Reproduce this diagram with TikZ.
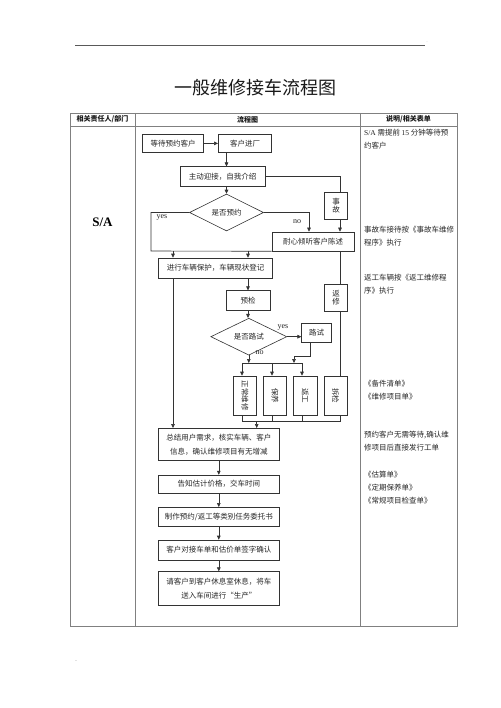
\documentclass[tikz,border=0pt]{standalone}
\usepackage{fontspec}
\usepackage{graphicx}
\setmainfont{Liberation Serif}
\newfontfamily\cjk{Noto Sans CJK SC}
\usetikzlibrary{shapes.geometric,arrows.meta}
\begin{document}
\begin{tikzpicture}[x=1pt,y=-1pt,
  flowbox/.style={draw=black!80, line width=0.6pt, inner sep=0pt, align=center,
    font=\cjk\fontsize{7.5}{10}\selectfont, text=black!85},
  stackbox/.style={flowbox, minimum width=23pt, minimum height=27pt,
    font=\cjk\fontsize{7.5}{8.5}\selectfont},
  vbox/.style={flowbox, minimum width=23.4pt, minimum height=39pt},
  dia/.style={diamond, flowbox},
  ln/.style={line width=0.6pt, draw=black!80},
  arr/.style={ln, -{Triangle[length=4pt,width=3.6pt]}},
  tbl/.style={draw=black!50, line width=0.8pt},
  lbl/.style={inner sep=0pt, font=\fontsize{8}{9}\selectfont, text=black!85},
  note/.style={anchor=north west, inner sep=0pt, align=left,
    font=\cjk\fontsize{7.5}{13}\selectfont, text=black!85},
  hdr/.style={inner sep=0pt, font=\cjk\bfseries\fontsize{7}{8}\selectfont, text=black!90}]
\useasboundingbox[fill=white] (0,0) rectangle (500,708);

% page decorations
\draw[draw=black!65, line width=0.6pt] (75,45) -- (425,45);
\node[inner sep=0pt, font=\fontsize{4}{4}\selectfont, text=black!50] (dot) at (427,42) {.};
\node[inner sep=0pt, font=\fontsize{6}{6}\selectfont, text=black!45] (mark) at (76,663) {¨};
\node[inner sep=0pt, font=\cjk\fontsize{18}{20}\selectfont, text=black!90] (title) at (255.5,88) {一般维修接车流程图};

% table
\draw[tbl] (70,113) rectangle (457,626);
\draw[tbl] (70,126) -- (457,126);
\draw[tbl] (135,113) -- (135,626);
\draw[tbl] (360,113) -- (360,626);
\node[hdr] (h1) at (102.5,119.5) {相关责任人/部门};
\node[hdr] (h2) at (247.5,119.5) {流程图};
\node[hdr] (h3) at (408.5,119.5) {说明/相关表单};
\node[inner sep=0pt, font=\bfseries\fontsize{13}{14}\selectfont] (sa) at (102.5,222) {S/A};

% notes
\node[note] (n1) at (364,129) {{\rmfamily S/A} 需提前 {\rmfamily 15} 分钟等待预\\约客户};
\node[note] (n2) at (364,226) {事故车接待按《事故车维修\\程序》执行};
\node[note] (n3) at (364,274) {返工车辆按《返工维修程\\序》执行};
\node[note] (n4) at (364,380) {《备件清单》\\《维修项目单》};
\node[note] (n5) at (364,431) {预约客户无需等待,确认维\\修项目后直接发行工单};
\node[note] (n6) at (364,471) {《估算单》\\《定期保养单》\\《常规项目检查单》};

% flow nodes
\node[flowbox, minimum width=60.6pt, minimum height=18.7pt] (wait) at (173,143.4) {等待预约客户};
\node[flowbox, minimum width=53.4pt, minimum height=18.7pt] (enter) at (245,143.4) {客户进厂};
\node[flowbox, minimum width=85pt, minimum height=19.3pt] (greet) at (222.5,176.4) {主动迎接，自我介绍};
\node[stackbox] (acc) at (336,205.5) {事\\故};
\node[dia, minimum width=74pt, minimum height=25pt] (d1) at (226.5,212.5) {是否预约};
\node[flowbox, minimum width=82pt, minimum height=19pt] (listen) at (313,241.5) {耐心倾听客户陈述};
\node[flowbox, minimum width=114pt, minimum height=20pt] (protect) at (215.5,268) {进行车辆保护，车辆现状登记};
\node[stackbox] (fx) at (336,297.5) {返\\修};
\node[flowbox, minimum width=44pt, minimum height=20pt] (pre) at (248,300.7) {预检};
\node[dia, minimum width=76pt, minimum height=25pt] (d2) at (248.8,336.7) {是否路试};
\node[flowbox, minimum width=30pt, minimum height=19.4pt] (road) at (316.7,333) {路试};
\node[vbox] (nm) at (245,395.5) {\rotatebox{-90}{正常维修}};
\node[vbox] (mt) at (275,395.5) {\rotatebox{-90}{保养}};
\node[vbox] (rw) at (305.3,395.5) {\rotatebox{-90}{返工}};
\node[vbox] (td) at (335.5,395.5) {\rotatebox{-90}{拆检}};
\node[flowbox, minimum width=121pt, minimum height=32.4pt, font=\cjk\fontsize{7.5}{14}\selectfont] (sum) at (218.8,444.5) {总结用户需求，核实车辆、客户\\信息，确认维修项目有无增减};
\node[flowbox, minimum width=121pt, minimum height=18.3pt] (inf) at (218.8,484.2) {告知估计价格，交车时间};
\node[flowbox, minimum width=121pt, minimum height=19.4pt] (mk) at (218.8,517) {制作预约/返工等类别任务委托书};
\node[flowbox, minimum width=121pt, minimum height=20pt] (sg) at (218.8,550) {客户对接车单和估价单签字确认};
\node[flowbox, minimum width=121pt, minimum height=33.3pt, font=\cjk\fontsize{7.5}{14}\selectfont] (rs) at (218.8,588.3) {请客户到客户休息室休息，将车\\送入车间进行“生产”};

% labels
\node[lbl] (ly1) at (162,217.5) {yes};
\node[lbl] (ln1) at (297,222) {no};
\node[lbl] (ly2) at (283,327.5) {yes};
\node[lbl] (ln2) at (259.5,353) {no};

% helper coordinates
\coordinate (xr) at (340,0);
\coordinate (yesc) at (151,251);
\coordinate (xa) at (173,0);
\coordinate (xb) at (248,0);
\coordinate (xno) at (309,0);
\coordinate (bt) at (0,363);
\coordinate (rb1) at (310,356.7);
\coordinate (rb2) at (294,356.7);
\coordinate (x1) at (242,0);
\coordinate (x2) at (272,0);
\coordinate (x3) at (302,0);
\coordinate (bb) at (0,421.7);
\coordinate (xs) at (256.7,0);

% connectors
\draw[arr] (wait) -- (enter);
\draw[arr] (enter.south -| d1.north) -- (greet.north -| d1.north);
\draw[arr] (greet.south -| d1.north) -- (d1.north);
\draw[ln] (greet.east) -| (acc.north -| xr);
\draw[arr] (acc.south -| xr) -- (listen.north -| xr);
\draw[ln] (d1.west) -| (yesc) -- (listen.south west);
\draw[arr] (yesc -| xa) -- (protect.north -| xa);
\draw[arr] (yesc -| xb) -- (protect.north -| xb);
\draw[arr] (d1.east) -| (listen.north -| xno);
\draw[ln] (listen.south -| xr) -- (fx.north -| xr);
\draw[ln] (fx.south -| xr) -- (td.north -| xr);
\draw[arr] (protect.south -| xa) -- (sum.north -| xa);
\draw[arr] (protect.south -| xb) -- (pre.north -| xb);
\draw[arr] (pre.south) -- (pre.south |- d2.north);
\draw[arr] (d2.east) -- (d2.east -| road.west);
\draw[arr] (road.south -| rb1) -- (rb1) -- (rb2) -- (rb2 |- bt);
\draw[arr] (d2.south) -- (d2.south |- bt);
\draw[ln] (bt -| x1) -- (bt -| x3);
\draw[arr] (bt -| x1) -- (nm.north -| x1);
\draw[arr] (bt -| x2) -- (mt.north -| x2);
\draw[arr] (bt -| x3) -- (rw.north -| x3);
\draw[ln] (nm.south -| x1) -- (bb -| x1) -- (bb -| xr);
\draw[ln] (mt.south -| x2) -- (bb -| x2);
\draw[ln] (rw.south -| x3) -- (bb -| x3);
\draw[ln] (td.south -| xr) -- (bb -| xr);
\draw[arr] (bb -| xs) -- (sum.north -| xs);
\draw[arr] (sum) -- (inf);
\draw[arr] (inf) -- (mk);
\draw[arr] (mk) -- (sg);
\draw[arr] (sg) -- (rs);
\end{tikzpicture}
\end{document}
